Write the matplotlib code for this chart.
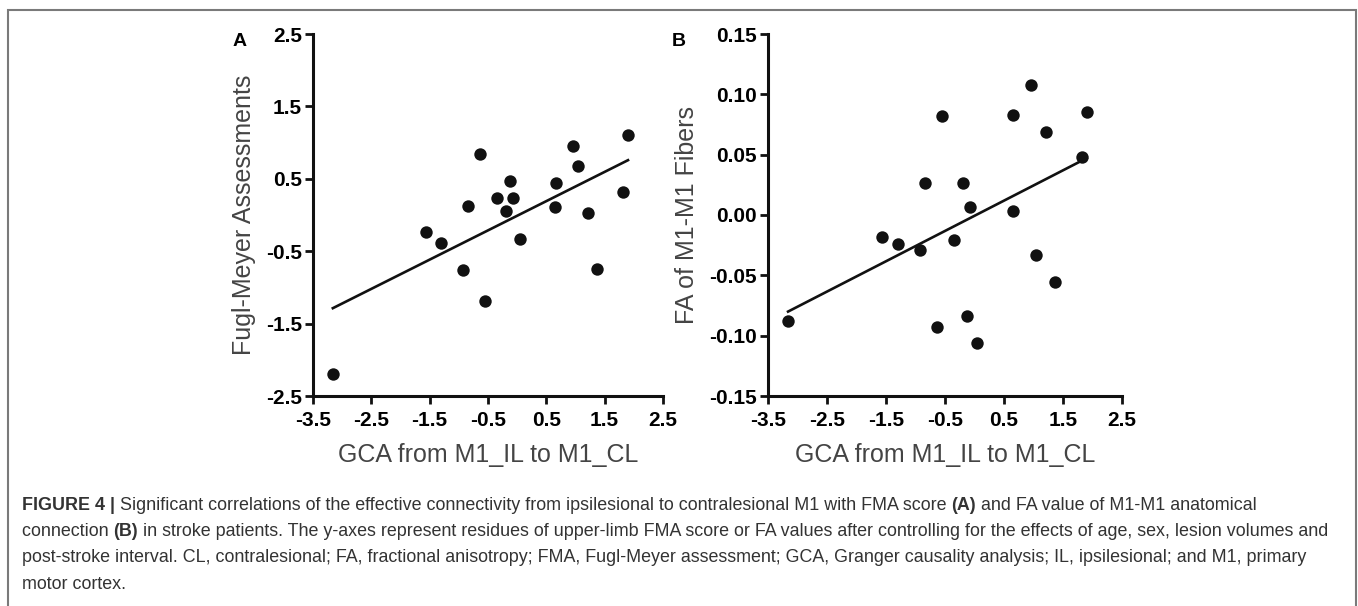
import matplotlib
matplotlib.use("Agg")
import matplotlib.pyplot as plt
import numpy as np
from matplotlib.patches import Rectangle

plt.rcParams['font.family'] = ['Liberation Sans', 'DejaVu Sans']

# GCA from M1_IL to M1_CL (shared by both panels)
gca = [1.90, 0.96, -0.63, 1.05, -0.12, 0.66, -0.35, -0.07, -0.84, 0.65,
       -0.19, 1.21, 1.82, -1.56, -1.30, 0.05, -0.92, 1.36, -0.55, -3.16]
# residual FMA scores (panel A)
fma = [1.10, 0.95, 0.84, 0.67, 0.47, 0.44, 0.24, 0.24, 0.13, 0.11,
       0.06, 0.03, 0.32, -0.23, -0.38, -0.33, -0.76, -0.74, -1.19, -2.19]
# residual FA of M1-M1 fibers (panel B)
fa = [0.085, 0.108, -0.0925, -0.0335, -0.084, 0.083, -0.021, 0.007, 0.0265, 0.0035,
      0.0268, 0.069, 0.048, -0.0186, -0.0244, -0.106, -0.029, -0.0557, 0.082, -0.088]

x_ticks = [-3.5, -2.5, -1.5, -0.5, 0.5, 1.5, 2.5]
a_ticks = [-2.5, -1.5, -0.5, 0.5, 1.5, 2.5]
b_ticks = [-0.15, -0.10, -0.05, 0.00, 0.05, 0.10, 0.15]

xlabel = "GCA from M1_IL to M1_CL"
a_ylabel = "Fugl-Meyer Assessments"
b_ylabel = "FA of M1-M1 Fibers"

W, H = 1358, 606
fig = plt.figure(figsize=(W / 100, H / 100), dpi=100)

# gray frame around the figure
fig.patches.append(Rectangle((8 / W, -0.05), 1348 / W, 1 - 10 / H + 0.05,
                             transform=fig.transFigure, fill=False,
                             edgecolor='#7a7a7a', linewidth=1.5))

label_col = '#444444'


def panel(left, right, yvals, yticks, ylabel, fmt, letter, letter_x):
    ax = fig.add_axes([left / W, 1 - 396 / H, (right - left) / W, 362 / H])
    ax.scatter(gca, yvals, s=80, color='#111111', zorder=3, linewidths=0)
    k, b = np.polyfit(gca, yvals, 1)
    xs = np.array([min(gca), max(gca)])
    ax.plot(xs, k * xs + b, color='#111111', linewidth=1.9)
    ax.set_xlim(-3.5, 2.5)
    ax.set_ylim(yticks[0], yticks[-1])
    ax.set_xticks(x_ticks)
    ax.set_xticklabels([f"{t:.1f}" for t in x_ticks])
    ax.set_yticks(yticks)
    ax.set_yticklabels([fmt.format(t) for t in yticks])
    for s in ['top', 'right']:
        ax.spines[s].set_visible(False)
    for s in ['left', 'bottom']:
        ax.spines[s].set_linewidth(2.2)
        ax.spines[s].set_color('#111111')
    ax.tick_params(width=2.0, length=6, color='#111111', labelsize=15)
    ax.tick_params(axis='y', pad=2)
    ax.tick_params(axis='x', pad=5)
    for lab in ax.get_xticklabels() + ax.get_yticklabels():
        lab.set_fontweight('bold')
    ax.set_xlabel(xlabel, fontsize=18, color=label_col, labelpad=9)
    ax.set_ylabel(ylabel, fontsize=18, color=label_col, labelpad=7)
    fig.text(letter_x / W, 1 - 41 / H, letter, fontsize=14,
             fontweight='bold', ha='left', va='center')
    return ax


panel(313, 663, fma, a_ticks, a_ylabel, "{:.1f}", "A", 233)
panel(768, 1122, fa, b_ticks, b_ylabel, "{:.2f}", "B", 672)

# caption with bold runs
caption = [
    [("FIGURE 4 |", 'bold'),
     (" Significant correlations of the effective connectivity from ipsilesional to contralesional M1 with FMA score ", 'normal'),
     ("(A)", 'bold'), (" and FA value of M1-M1 anatomical", 'normal')],
    [("connection ", 'normal'), ("(B)", 'bold'),
     (" in stroke patients. The y-axes represent residues of upper-limb FMA score or FA values after controlling for the effects of age, sex, lesion volumes and", 'normal')],
    [("post-stroke interval. CL, contralesional; FA, fractional anisotropy; FMA, Fugl-Meyer assessment; GCA, Granger causality analysis; IL, ipsilesional; and M1, primary", 'normal')],
    [("motor cortex.", 'normal')],
]
renderer = fig.canvas.get_renderer()
y_px = 505
for line in caption:
    x_px = 22
    for txt, w in line:
        t = fig.text(x_px / W, 1 - y_px / H, txt, fontsize=12.9,
                     fontweight=w, color='#333333', ha='left', va='center')
        x_px += t.get_window_extent(renderer).width
    y_px += 26.5

fig.savefig("out.png", dpi=100)
